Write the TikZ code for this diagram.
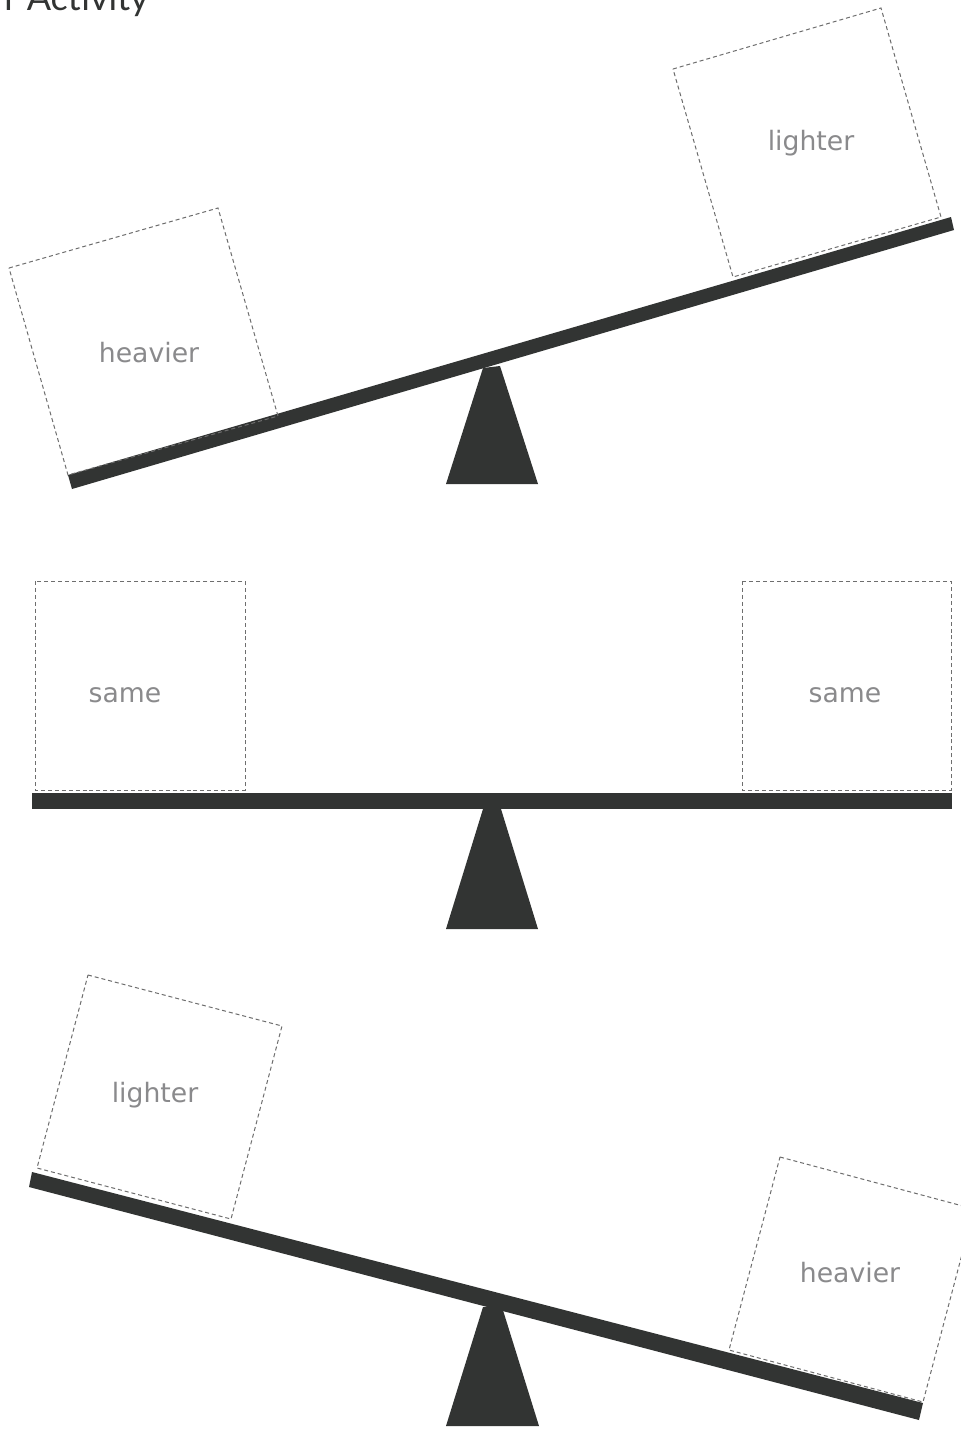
\documentclass[tikz,border=0pt]{standalone}
\usepackage{fontspec}
\setmainfont{DejaVu Sans}
\newfontfamily\titlefont{Lato}
\definecolor{beamcol}{RGB}{50,52,51}
\definecolor{boxcol}{RGB}{110,110,110}
\definecolor{labcol}{RGB}{138,138,140}
\tikzset{
  beam/.style={fill=beamcol, draw=none},
  fulcrum/.style={fill=beamcol, draw=none},
  weightbox/.style={draw=boxcol, line width=0.75pt, dash pattern=on 3pt off 2.2pt},
  lab/.style={text=labcol, font=\fontsize{20}{24}\selectfont, inner sep=0pt}
}
\begin{document}
\begin{tikzpicture}[x=0.75pt,y=-0.75pt]
\useasboundingbox (0,0) rectangle (961,1429);
\clip (0,0) rectangle (961,1429);
\fill[white] (0,0) rectangle (961,1429);
% title (cut at top)
\node[anchor=base east, inner sep=0pt, text=beamcol, font=\titlefont\fontsize{27}{30}\selectfont] (title) at (149,10) {r Activity};

% ---------- panel 1 ----------
\fill[fulcrum] (446,484) -- (538,484) -- (500,366) -- (483,368) -- cycle;
\fill[beam] (68,475) -- (951,217) -- (954,230) -- (72,489) -- cycle;
\draw[weightbox] (9,268) -- (218,208) -- (278,416) -- (68,475) -- cycle;
\draw[weightbox] (673,69) -- (881,8) -- (941,217) -- (733,277) -- cycle;
\node[lab] (h1) at (149,353) {heavier};
\node[lab] (l1) at (811,143) {lighter};

% ---------- panel 2 ----------
\fill[fulcrum] (446,929) -- (538,929) -- (501,809) -- (483,809) -- cycle;
\fill[beam] (32,793) rectangle (952,809);
\draw[weightbox] (35,581) rectangle (245,790);
\draw[weightbox] (742,581) rectangle (951,790);
\node[lab] (s1) at (125,695) {same};
\node[lab] (s2) at (845,695) {same};

% ---------- panel 3 ----------
\fill[fulcrum] (446,1426) -- (539,1426) -- (502,1307) -- (483,1307) -- cycle;
\fill[beam] (32,1172) -- (923,1403) -- (919,1420) -- (29,1187) -- cycle;
\draw[weightbox] (88,975) -- (282,1026) -- (231,1219) -- (37,1168) -- cycle;
\draw[weightbox] (780,1157) -- (974,1209) -- (923,1402) -- (729,1350) -- cycle;
\node[lab] (l3) at (155,1095) {lighter};
\node[lab] (h3) at (850,1273) {heavier};
\end{tikzpicture}
\end{document}
